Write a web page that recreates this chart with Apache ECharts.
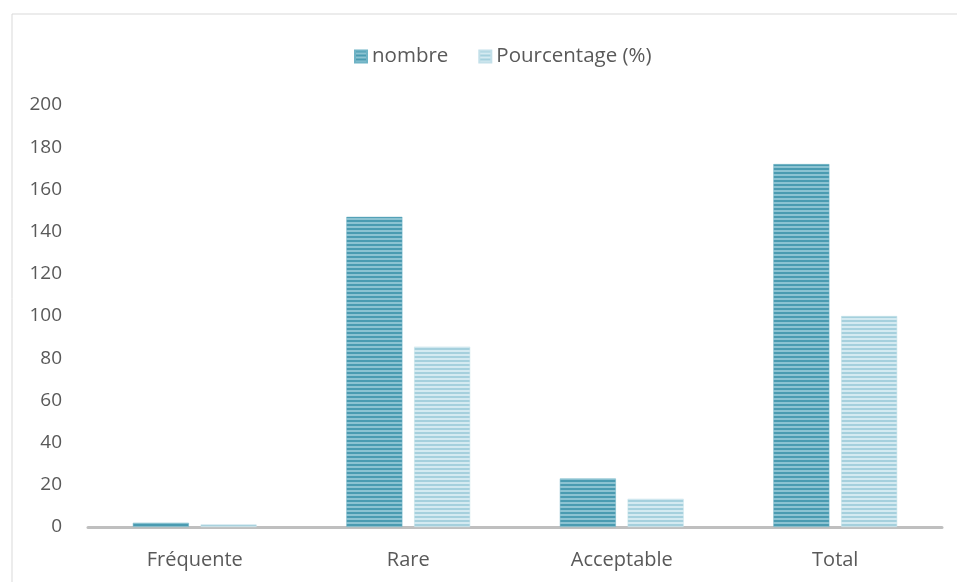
<!DOCTYPE html>
<html>
<head>
<meta charset="utf-8">
<script src="https://cdn.jsdelivr.net/npm/echarts@6/dist/echarts.min.js"></script>
<style>
  html, body { margin: 0; padding: 0; background: #fff; }
  #chart { width: 957px; height: 582px; }
</style>
</head>
<body>
<div id="chart"></div>
<script>
// data
const categories = ['Fréquente', 'Rare', 'Acceptable', 'Total'];
const nombre = [2, 147, 23, 172];
const pourcentage = [1.16, 85.47, 13.37, 100];
const seriesNames = ['nombre', 'Pourcentage (%)'];

// horizontal stripe fill, like the original office chart
function stripes(dark, light) {
    const c = document.createElement('canvas');
    c.width = 4;
    c.height = 4;
    const ctx = c.getContext('2d');
    ctx.fillStyle = light;
    ctx.fillRect(0, 0, 4, 4);
    ctx.fillStyle = dark;
    ctx.fillRect(0, 0, 4, 2);
    return { image: c, repeat: 'repeat' };
}

const font = '"Open Sans", "DejaVu Sans", sans-serif';
const chart = echarts.init(document.getElementById('chart'));

chart.setOption({
    animation: false,
    graphic: [{
        type: 'rect',
        shape: { x: 12, y: 14, width: 1000, height: 700 },
        style: { fill: 'none', stroke: '#d9d9d9', lineWidth: 1 },
        z: -1
    }],
    legend: {
        top: 41,
        left: 349,
        icon: 'rect',
        itemWidth: 12,
        itemHeight: 12,
        itemGap: 30,
        textStyle: { fontFamily: font, fontSize: 20.5, color: '#595959' },
        data: seriesNames
    },
    grid: { left: 88, right: 15, top: 105, bottom: 55 },
    xAxis: {
        type: 'category',
        data: categories,
        axisLine: { lineStyle: { color: '#bfbfbf', width: 3 } },
        axisTick: { show: false },
        axisLabel: { fontFamily: font, fontSize: 20, color: '#595959', margin: 23 }
    },
    yAxis: {
        type: 'value',
        min: 0,
        max: 200,
        interval: 20,
        splitLine: { show: false },
        axisLine: { show: false },
        axisLabel: { fontFamily: font, fontSize: 19, color: '#595959', margin: 26 }
    },
    series: [{
        name: seriesNames[0],
        type: 'bar',
        data: nombre,
        barWidth: 56,
        barGap: '21%',
        itemStyle: { color: stripes('#4a9bb1', '#8cc3d2'), borderColor: '#6fb3c5', borderWidth: 0.5 }
    }, {
        name: seriesNames[1],
        type: 'bar',
        data: pourcentage,
        barWidth: 56,
        itemStyle: { color: stripes('#a5d0dd', '#d4eaf1'), borderColor: '#c3e0e9', borderWidth: 0.5 }
    }]
});
</script>
</body>
</html>
